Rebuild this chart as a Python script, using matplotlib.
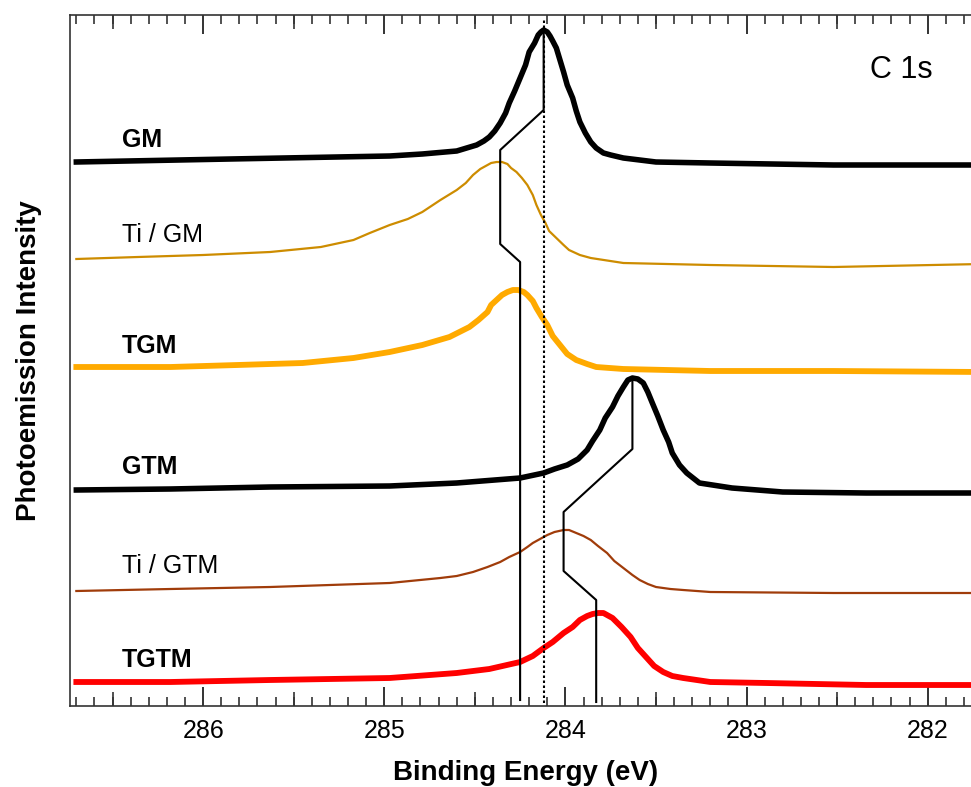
import matplotlib
matplotlib.use("Agg")
import matplotlib.pyplot as plt
from matplotlib.ticker import MultipleLocator, FixedLocator, NullFormatter

plt.rcParams['font.family'] = ['Liberation Sans', 'DejaVu Sans']

# C 1s spectra, binding energy (eV) vs stacked intensity (arb. units)
gm_e = [286.70, 285.85, 284.97, 284.79, 284.60, 284.49, 284.45, 284.42, 284.39, 284.36,
        284.33, 284.31, 284.28, 284.25, 284.22, 284.20, 284.17, 284.15, 284.135, 284.12,
        284.10, 284.085, 284.07, 284.05, 284.03, 284.01, 283.99, 283.96, 283.94, 283.92,
        283.89, 283.86, 283.83, 283.79, 283.75, 283.68, 283.59, 283.50, 283.20, 282.52,
        281.70]
gm_i = [544, 547, 550, 552, 555, 561, 565, 569, 575, 583,
        593, 603, 615, 628, 641, 654, 663, 671, 674, 676,
        674, 670, 665, 658, 646, 634, 621, 608, 595, 584,
        573, 564, 558, 553, 551, 548, 546, 544, 543, 541,
        541]

ti_gm_e = [286.70, 286.36, 286.00, 285.63, 285.35, 285.17, 285.08, 284.97, 284.87, 284.79,
           284.69, 284.60, 284.55, 284.51, 284.47, 284.43, 284.41, 284.38, 284.35, 284.32,
           284.30, 284.27, 284.24, 284.21, 284.18, 284.16, 284.135, 284.11, 284.09, 284.05,
           284.01, 283.98, 283.92, 283.86, 283.68, 283.20, 282.52, 281.70]
ti_gm_i = [447, 449, 451, 454, 459, 466, 473, 481, 487, 494,
           506, 516, 523, 531, 537, 541, 543, 544, 544, 542,
           538, 534, 528, 521, 511, 501, 491, 483, 475, 468,
           461, 456, 451, 448, 443, 441, 439, 442]

tgm_e = [286.70, 286.18, 285.81, 285.45, 285.17, 284.97, 284.79, 284.64, 284.53, 284.48,
         284.43, 284.41, 284.38, 284.35, 284.32, 284.29, 284.26, 284.23, 284.21, 284.18,
         284.16, 284.13, 284.10, 284.07, 284.03, 283.99, 283.94, 283.88, 283.83, 283.68,
         283.20, 282.52, 281.70]
tgm_i = [339, 339, 341, 343, 348, 354, 361, 369, 379, 386,
         394, 401, 406, 411, 414, 416, 416, 414, 411, 405,
         398, 389, 381, 370, 361, 352, 346, 342, 339, 337,
         335, 335, 334]

gtm_e = [286.70, 286.18, 285.63, 284.97, 284.60, 284.25, 284.12, 284.06, 283.99, 283.93,
         283.88, 283.85, 283.81, 283.78, 283.74, 283.71, 283.68, 283.655, 283.63, 283.60,
         283.57, 283.545, 283.52, 283.49, 283.46, 283.43, 283.41, 283.37, 283.33, 283.26,
         283.08, 282.80, 282.34, 281.70]
gtm_i = [216, 217, 219, 220, 223, 228, 233, 237, 241, 247,
         256, 265, 276, 288, 299, 310, 319, 326, 328, 327,
         323, 314, 303, 290, 276, 264, 253, 241, 233, 223,
         218, 214, 213, 213]

ti_gtm_e = [286.70, 286.18, 285.63, 284.97, 284.69, 284.60, 284.51, 284.43, 284.36, 284.31,
            284.25, 284.21, 284.18, 284.14, 284.10, 284.06, 284.01, 283.98, 283.94, 283.90,
            283.86, 283.82, 283.77, 283.73, 283.68, 283.63, 283.59, 283.545, 283.50, 283.42,
            283.35, 283.20, 282.52, 281.70]
ti_gtm_i = [115, 117, 119, 123, 128, 130, 134, 139, 144, 149,
            154, 159, 163, 167, 171, 174, 176, 176, 173, 170,
            166, 160, 153, 145, 138, 131, 126, 122, 119, 117,
            116, 114, 113, 113]

tgtm_e = [286.70, 286.18, 285.63, 284.97, 284.60, 284.42, 284.25, 284.18, 284.12, 284.07,
          284.01, 283.96, 283.92, 283.88, 283.85, 283.82, 283.79, 283.77, 283.74, 283.69,
          283.64, 283.60, 283.55, 283.51, 283.46, 283.41, 283.35, 283.20, 282.89, 282.34,
          281.70]
tgtm_i = [24, 24, 26, 28, 33, 37, 44, 50, 58, 64,
          73, 79, 86, 90, 92, 93, 93, 91, 88, 79,
          69, 58, 48, 40, 34, 30, 28, 24, 23, 21,
          21]

# peak-position guide lines
guide1_e = [284.12, 284.12, 284.36, 284.36, 284.25, 284.25]
guide1_i = [676, 596, 556, 462, 444, 6]
guide2_e = [283.63, 283.63, 284.01, 284.01, 283.83, 283.83]
guide2_i = [328, 257, 194, 135, 106, 4]
ref_e = 284.12

fig = plt.figure(figsize=(9.71, 7.87), dpi=100)
ax = fig.add_axes([70 / 971, 81 / 787, 912 / 971, 691 / 787])

ax.plot(gm_e, gm_i, color='black', lw=4.0, solid_joinstyle='round')
ax.plot(ti_gm_e, ti_gm_i, color='#CD8C00', lw=1.6, solid_joinstyle='round')
ax.plot(tgm_e, tgm_i, color='#FFAA00', lw=4.2, solid_joinstyle='round')
ax.plot(gtm_e, gtm_i, color='black', lw=4.0, solid_joinstyle='round')
ax.plot(ti_gtm_e, ti_gtm_i, color='#A03C0A', lw=1.6, solid_joinstyle='round')
ax.plot(tgtm_e, tgtm_i, color='#FF0000', lw=4.2, solid_joinstyle='round')

ax.plot(guide1_e, guide1_i, color='black', lw=1.5)
ax.plot(guide2_e, guide2_i, color='black', lw=1.5)
ax.vlines(ref_e, 3, 686, color='black', lw=1.5, linestyles=(0, (1.2, 1.2)))

lx = 286.447
ax.text(lx, 559, 'GM', fontsize=18, fontweight='bold', va='baseline')
ax.text(lx, 464, 'Ti / GM', fontsize=18, va='baseline')
ax.text(lx, 353, 'TGM', fontsize=18, fontweight='bold', va='baseline')
ax.text(lx, 232, 'GTM', fontsize=18, fontweight='bold', va='baseline')
ax.text(lx, 133, 'Ti / GTM', fontsize=18, va='baseline')
ax.text(lx, 39, 'TGTM', fontsize=18, fontweight='bold', va='baseline')
ax.text(282.32, 628, 'C 1s', fontsize=22, va='baseline')

ax.set_xlim(286.735, 281.70)
ax.set_ylim(0, 691)

ax.xaxis.set_major_locator(MultipleLocator(1))
ax.xaxis.set_minor_locator(MultipleLocator(0.1))
ax.tick_params(axis='x', which='both', direction='in', top=True, bottom=True,
               colors='#333333', labelcolor='black')
ax.tick_params(axis='x', which='major', length=13.5, width=1.4, labelsize=18, pad=9)
ax.tick_params(axis='x', which='minor', length=6.7, width=1.2)
ax.set_yticks([])
ax.spines['right'].set_visible(False)
for s in ('left', 'top', 'bottom'):
    ax.spines[s].set_linewidth(1.2)
    ax.spines[s].set_color('#333333')

half = [286.5, 285.5, 284.5, 283.5, 282.5]
for loc in ('bottom', 'top'):
    sec = ax.secondary_xaxis(loc)
    sec.xaxis.set_major_locator(FixedLocator(half))
    sec.xaxis.set_major_formatter(NullFormatter())
    sec.xaxis.set_minor_locator(FixedLocator([]))
    sec.tick_params(direction='in', length=10, width=1.2, colors='#333333')
    for s in sec.spines.values():
        s.set_visible(False)

ax.set_xlabel('Binding Energy (eV)', fontsize=20, fontweight='bold')
ax.xaxis.set_label_coords(0.5, -0.078)
ax.xaxis.label.set_va('top')
ax.set_ylabel('Photoemission Intensity', fontsize=20, fontweight='bold')
ax.yaxis.set_label_coords(-0.031, 0.5)

fig.savefig('out.png', dpi=100)
